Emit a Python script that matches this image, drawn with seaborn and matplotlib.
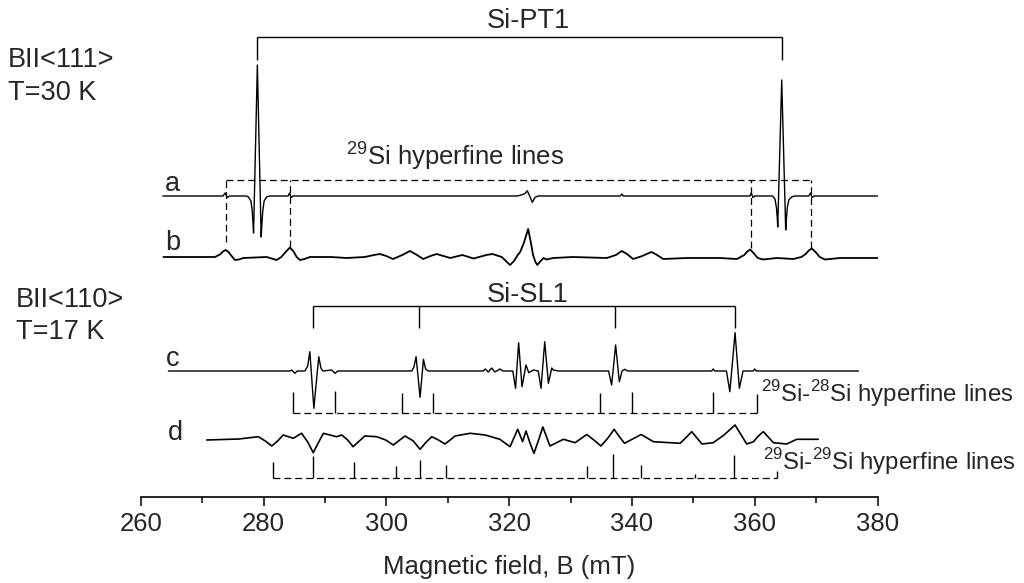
import matplotlib
matplotlib.use("Agg")
import matplotlib.pyplot as plt
import pandas as pd
import seaborn as sns

# ---------------- data ----------------
# field values in mT, signal in arbitrary units (positive = up)
a_field = [263.6, 273.4, 273.75, 274.1, 274.5, 277.2, 277.55, 277.95, 278.15, 278.3, 278.38,
           279.0, 279.62, 279.72, 279.88, 280.1, 280.5, 281.0, 284.0, 284.25, 284.5, 284.8,
           321.3, 322.0, 322.6, 322.96, 323.35, 323.78, 324.2, 324.7, 338.1, 338.35, 338.6,
           359.2, 359.45, 359.7, 360.0, 362.9, 363.3, 363.55, 363.7, 363.75, 364.4, 365.05,
           365.15, 365.3, 365.55, 366.0, 366.5, 368.8, 369.1, 369.35, 369.7, 380.0]
a_signal = [0, 0, 3, -1.5, 0, 0, -1, -5, -14, -28, -37,
            131, -41, -30, -15, -5, -1, 0, 0, 3, -1.5, 0,
            0, 1, 2.5, 5.3, 0, -6.3, -1.5, 0, 0, 2, 0,
            0, 3, -1.5, 0, 0, -3, -12, -24, -31, 116, -34,
            -24, -12, -4, -1, 0, 0, 3, -1.5, 0, 0]

b_field = [263.7, 272.1, 272.9, 273.4, 273.85, 274.3, 274.8, 275.35, 276.0, 276.7, 280.5,
           282.15, 282.9, 283.6, 284.3, 284.9, 285.4, 285.95, 286.7, 287.55, 291.0, 293.5,
           296.5, 298.0, 298.95, 300.0, 301.1, 302.6, 303.85, 305.0, 306.0, 307.2, 308.2,
           310.4, 312.4, 314.2, 316.3, 317.3, 318.8, 320.15, 320.8, 321.4, 321.8, 322.4,
           323.1, 323.5, 323.9, 324.3, 324.6, 325.0, 325.6, 326.1, 327.2, 330.4, 335.9,
           337.4, 338.35, 339.2, 340.2, 341.7, 342.4, 343.2, 344.1, 345.1, 348.9, 354.3,
           357.1, 358.3, 358.8, 359.25, 359.8, 360.5, 361.4, 363.6, 366.3, 367.6, 368.3,
           368.8, 369.3, 369.9, 370.6, 371.45, 373.9, 380.0]
b_signal = [0, 0, 2.5, 5.5, 7, 5, 1, -3, -2.5, -1, 0,
            -3, 0, 5, 9.5, 5.5, 0, -3, -2, 0, 0, -1,
            0, 2, 3, 1, -2, 2, 6, 2, -2, 1, 3,
            -1, 2, -1.5, 2, 3, 0, -8, -4, 2, 5, 14,
            28, 16, 2, -5, -8, -5, -1, -2.5, -1, 0, -1,
            2, 6, 3, -2, 1, 3, 5, 2, -2, -1, -1,
            -2, 2, 5.5, 7.5, 4, -1, -2.5, -1, -2, 0, 3,
            6.5, 8.5, 5, 0, -2.5, -1, -1]

c_field = [264.5, 284.3, 284.6, 285.1, 285.5, 286.75, 287.2, 287.55, 288.2, 289.0, 289.35,
           289.65, 291.1, 291.65, 292.1, 304.15, 304.5, 304.85, 305.5, 306.05, 306.4, 306.85,
           315.8, 316.1, 316.6, 317.15, 317.7, 318.5, 319.0, 320.6, 321.05, 321.55, 322.1,
           322.75, 323.2, 323.95, 324.75, 325.2, 325.8, 326.4, 326.95, 327.2, 328.0, 336.2,
           336.7, 337.35, 337.95, 338.4, 338.85, 339.3, 353.0, 353.25, 353.5, 355.4, 355.95,
           356.8, 357.5, 358.1, 359.75, 360.0, 360.25, 376.9]
c_signal = [0, 0, 1, -2.3, 0, 0, 5, 19.3, -37.3, 14.3, 3,
            0, 1, -2.3, 0, 0, 4, 14.3, -26.3, 11.7, 2, 0,
            0, 2, -1, 3, -1, 2, 0, 0, -17.3, 28.3, -15.7,
            6, -1.7, 1, 0, -17.3, 29.3, -12.3, 3, 1, 0, 0,
            -14, 26, -10.7, 0, 1.7, 0, 0, 2, 0, 0, -20.7,
            38.3, -17.3, 0, 0, 2, 0, 0]

d_field = [270.75, 276.0, 279.15, 280.3, 281.35, 282.3, 283.2, 284.85, 286.2, 287.2, 288.1,
           289.0, 289.75, 291.9, 292.75, 293.7, 294.6, 295.6, 296.5, 298.45, 299.9, 301.15,
           302.2, 303.05, 304.4, 305.5, 306.5, 307.4, 308.5, 309.55, 310.4, 311.2, 313.65,
           316.1, 318.5, 320.15, 321.4, 322.2, 322.75, 323.4, 324.05, 324.8, 325.5, 326.65,
           328.85, 330.75, 332.65, 333.8, 334.95, 336.1, 337.1, 338.0, 338.8, 341.5, 343.5,
           347.85, 348.9, 349.75, 350.6, 351.4, 353.25, 355.0, 356.8, 357.8, 358.7, 359.8,
           360.6, 361.4, 362.2, 363.05, 365.2, 366.85, 370.35]
d_signal = [0, 1, 3.3, -1, -6, -1, 5, 1.7, 6.7, -2, -12.7,
            -2, 6.7, 3.3, 5, 0, -6.7, -1, 4, 3.3, 0, -5,
            0, 4, -1, -9.3, -2, 3.3, 0, -4, 0, 4, 6.7,
            5, 0.7, -6.7, 10.7, -1.7, 9, -3, -13.3, 0, 13, -6,
            0.7, -2.7, 5.5, 0, -6, 2, 10.7, 3, -3.3, 5.5, -1.7,
            -3.3, 3, 8.3, 2, -4, -2.7, 5, 15, 5, -4, -1.7,
            4, 8.3, 3, -2.7, -4, 0.7, 0.7]

pt1_lines = [279.0, 364.4]                        # Si-PT1 bracket
sl1_lines = [288.1, 305.3, 337.25, 356.8]         # Si-SL1 bracket
si29_hf = [273.85, 284.3, 359.4, 369.1]           # 29Si hyperfine lines (a/b)
si2928_pos = [284.8, 291.6, 302.6, 307.6, 334.8, 340.0, 353.2, 360.4]
si2928_h = [21, 22, 20, 20, 20, 21, 21, 19]
si2929_pos = [281.5, 288.05, 294.7, 301.5, 305.5, 309.7, 332.7, 337.0, 341.5, 350.2, 356.7, 363.6]
si2929_h = [16, 22, 16, 12, 18, 13, 12, 24, 13, 4.5, 23, 7]

x_ticks = [260, 280, 300, 320, 340, 360, 380]
x_minor = [270, 290, 310, 330, 350, 370]

# ---------------- layout ----------------
W, H = 1024, 583
sns.set_style("white")
plt.rcParams["font.family"] = ["Liberation Sans", "DejaVu Sans"]
plt.rcParams["mathtext.fontset"] = "custom"
plt.rcParams["mathtext.rm"] = "Liberation Sans"
FS = 18.5      # axis text
FS_BIG = 19.5  # labels / brackets
FS_HF = 18.5   # 29Si hyperfine lines
FS_R = 17.3    # right-hand labels

fig = plt.figure(figsize=(W / 100, H / 100), dpi=100)
ax = fig.add_axes([140.7 / W, 86 / H, 736.8 / W, 497 / H])
ax.set_xlim(260, 380)
ax.set_ylim(0, 497)

offsets = {"a": 301, "b": 240, "c": 126, "d": 57}
widths = {"a": 1.0, "b": 1.3, "c": 1.0, "d": 1.2}
traces = {"a": (a_field, a_signal), "b": (b_field, b_signal),
          "c": (c_field, c_signal), "d": (d_field, d_signal)}
for name, (fx, sy) in traces.items():
    df = pd.DataFrame({"field": fx, "signal": sy})
    df["y"] = df["signal"] + offsets[name]
    sns.lineplot(data=df, x="field", y="y", ax=ax, color="black",
                 linewidth=widths[name], estimator=None, sort=False)

# Si-PT1 bracket
ax.hlines(460, pt1_lines[0], pt1_lines[-1], color="black", lw=1.0)
ax.vlines(pt1_lines, 437, 460, color="black", lw=1.0)
ax.text(323.2, 469, "Si-PT1", ha="center", va="baseline", fontsize=FS_BIG)

# 29Si hyperfine dashed box
dash = (0, (5.5, 3.2))
ax.hlines(317, si29_hf[0], si29_hf[-1], color="black", lw=0.9, linestyles=[dash])
ax.vlines(si29_hf, [255, 250, 249, 249], 317, color="black", lw=0.9, linestyles=[dash])
ax.text(293.5, 332, r"$^{\mathregular{29}}$Si hyperfine lines", ha="left",
        va="baseline", fontsize=FS_HF)

# Si-SL1 bracket
ax.hlines(191, sl1_lines[0], sl1_lines[-1], color="black", lw=1.0)
ax.vlines(sl1_lines, 169, 191, color="black", lw=1.0)
ax.text(323.0, 194.5, "Si-SL1", ha="center", va="baseline", fontsize=FS_BIG)

# 29Si-28Si stick pattern
y28 = 84.3
ax.hlines(y28, si2928_pos[0], si2928_pos[-1], color="black", lw=0.9, linestyles=[dash])
ax.vlines(si2928_pos, y28, [y28 + h for h in si2928_h], color="black", lw=1.0)
ax.text(361.1, 95.3, r"$^{\mathregular{29}}$Si-$^{\mathregular{28}}$Si hyperfine lines",
        ha="left", va="baseline", fontsize=FS_R)

# 29Si-29Si stick pattern
y29 = 18.7
ax.hlines(y29, si2929_pos[0], si2929_pos[-1], color="black", lw=0.9, linestyles=[dash])
ax.vlines(si2929_pos, y29, [y29 + h for h in si2929_h], color="black", lw=1.0)
ax.text(361.4, 27, r"$^{\mathregular{29}}$Si-$^{\mathregular{29}}$Si hyperfine lines",
        ha="left", va="baseline", fontsize=FS_R)

# trace letters
for lab, xl, yl in [("a", 165, 184), ("b", 165, 243), ("c", 166, 359), ("d", 168, 433)]:
    fig.text(xl / W, 1 - yl / H, lab, ha="left", va="center", fontsize=FS_BIG)

# condition labels
fig.text(8 / W, 1 - 60 / H, "BII<111>", ha="left", va="center", fontsize=FS_BIG)
fig.text(8 / W, 1 - 93 / H, "T=30 K", ha="left", va="center", fontsize=FS_BIG)
fig.text(16 / W, 1 - 300 / H, "BII<110>", ha="left", va="center", fontsize=FS_BIG)
fig.text(16 / W, 1 - 332 / H, "T=17 K", ha="left", va="center", fontsize=FS_BIG)

# axis styling
sns.despine(ax=ax, left=True, top=True, right=True)
ax.spines["bottom"].set_linewidth(1.2)
ax.spines["bottom"].set_color("black")
ax.set_yticks([])
ax.set_ylabel("")
ax.set_xticks(x_ticks)
ax.set_xticks(x_minor, minor=True)
ax.set_xticklabels([str(t) for t in x_ticks])
ax.tick_params(axis="x", which="major", direction="out", length=6.5, width=1.1,
               color="black", labelsize=FS, pad=4, bottom=True)
ax.tick_params(axis="x", which="minor", direction="out", length=4.3, width=1.1,
               color="black", bottom=True)
ax.set_xlabel("Magnetic field, B (mT)", fontsize=FS, labelpad=14)
ax.patch.set_alpha(0)

fig.savefig("out.png", dpi=100)
